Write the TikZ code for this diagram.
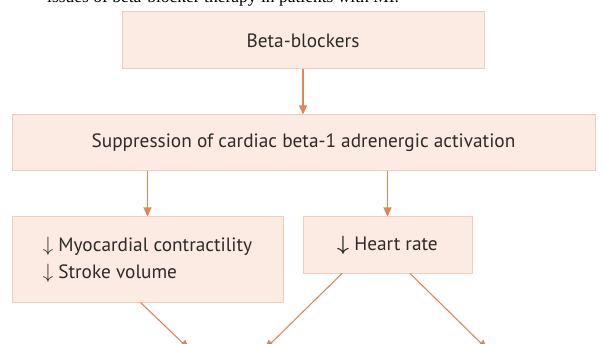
\documentclass[tikz,border=0pt]{standalone}
\usepackage{amsmath,amssymb,bm}
\usepackage{fontspec}
\setmainfont{Liberation Serif}
\newfontfamily\boxfont{PT Sans}
\usetikzlibrary{calc,arrows.meta}

\definecolor{boxfill}{RGB}{252,235,226}
\definecolor{boxline}{RGB}{241,206,188}
\definecolor{linkcol}{RGB}{226,132,88}
\definecolor{textgray}{RGB}{45,42,40}

\begin{document}
\begin{tikzpicture}[x=1pt,y=-1pt,
	box/.style={draw=boxline, fill=boxfill, line width=1pt, inner sep=0pt, text=textgray, font=\boxfont\fontsize{19.3}{27}\selectfont},
	link/.style={draw=linkcol, line width=1.1pt, -{Triangle[length=9pt,width=8pt]}}]

		%frame%
		\useasboundingbox (0,0) rectangle (604,344);
		\clip (0,0) rectangle (604,344);

		% cut caption %
		\node[anchor=base west, inner sep=0pt, font=\fontsize{17.5}{20}\selectfont] (caption) at (47,3) {issues of beta-blocker therapy in patients with MI.};

		% boxes %
		\node[box, minimum width=362pt, minimum height=57pt] (beta) at (303,40.5) {Beta-blockers};
		\node[box, minimum width=583pt, minimum height=56pt] (supp) at (303.5,143) {Suppression of cardiac beta-1 adrenergic activation};
		\node[box, minimum width=271pt, minimum height=85pt, align=left] (myo) at (147.5,259.5) {$\downarrow$ Myocardial contractility\\$\downarrow$ Stroke volume};
		\node[box, minimum width=169pt, minimum height=56pt] (hr) at (387.5,245) {$\bm{\downarrow}$ Heart rate};

		% arrows down %
		\draw[link] (beta.south) -- (beta.south |- supp.north);
		\draw[link] (myo.north |- supp.south) -- (myo.north);
		\draw[link] (hr.north |- supp.south) -- (hr.north);

		% arrows leaving the page %
		\coordinate (endA) at (189,349);
		\coordinate (endB) at (265,349);
		\coordinate (endC) at (487,349);
		\draw[link] ($(myo.south)+(-7,0)$) -- (endA);
		\draw[link] ($(hr.south)+(-45.5,0)$) -- (endB);
		\draw[link] ($(hr.south)+(22.5,0)$) -- (endC);

	\end{tikzpicture}
\end{document}
